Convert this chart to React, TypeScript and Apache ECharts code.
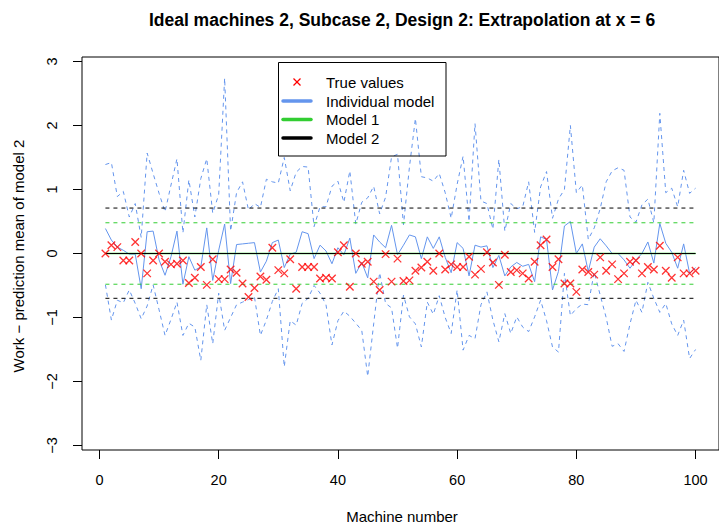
import React, { useEffect, useRef } from "react";
import * as echarts from "echarts";

const titleText = "Ideal machines 2, Subcase 2, Design 2: Extrapolation at x = 6";
const xAxisTitle = "Machine number";
const yAxisTitle = "Work \u2212 prediction mean of model 2";
const xTicks = [0, 20, 40, 60, 80, 100];
const yTicks = [-3, -2, -1, 0, 1, 2, 3];
const legendLabels = ["True values", "Individual model", "Model 1", "Model 2"];

// Individual model prediction (machines 1..100)
const individualPred = [
  0.39, 0.21, 0.1, 0.05, -0.01, -0.01, -0.55, 0.34, 0.35, -0.1,
  -0.34, -0.05, 0.35, -0.48, -0.05, -0.26, -0.21, 0.4, -0.42, 0.05,
  0.46, -0.47, 0.14, 0.15, 0.16, 0.17, -0.29, -0.12, 0.17, 0.21,
  -0.22, -0.01, 0.02, 0.34, 0.31, -0.08, 0.13, 0.04, -0.16, 0.09,
  -0.02, 0.24, -0.31, -0.14, -0.38, 0.29, 0.18, 0.09, 0.44, -0.02,
  0.13, 0.29, 0.26, -0.08, 0.26, 0.08, 0.26, -0.06, -0.3, 0.17,
  0.08, -0.35, 0.13, 0.1, 0.12, -0.22, -0.03, -0.35, -0.21, -0.14,
  -0.2, -0.17, -0.44, 0.26, 0.22, -0.57, -0.28, 0.43, 0.5, 0.0,
  0.15, -0.28, 0.1, 0.23, 0.12, 0.0, 0.0, -0.1, -0.23, -0.1,
  0.0, 0.18, -0.15, 0.47, 0.16, 0.02, -0.23, 0.15, -0.31, -0.22,
];

// Individual model upper interval
const individualUpper = [
  1.39, 1.42, 0.89, 0.97, 0.57, 0.78, 0.25, 1.57, 1.25, 0.94,
  0.65, 1.07, 1.48, 0.32, 1.15, 0.57, 1.17, 1.48, 0.63, 0.92,
  2.74, 0.35, 0.95, 1.12, 0.68, 0.78, 0.72, 1.16, 1.12, 1.1,
  1.5, 0.98, 1.27, 1.36, 1.35, 0.42, 0.73, 0.73, 1.05, 1.13,
  0.8, 1.29, 0.46, 0.8, 0.87, 1.05, 0.62, 0.88, 1.51, 1.55,
  0.45, 1.35, 2.11, 1.2, 1.18, 1.13, 1.25, 0.95, 0.55, 1.08,
  1.52, 0.5, 2.03, 0.82, 0.78, 0.38, 1.47, 0.35, 0.78, 0.7,
  0.73, 1.12, 0.33, 1.04, 1.28, 0.55, 0.85, 1.0, 2.0, 0.95,
  1.07, 0.22, 0.4, 0.7, 1.12, 1.29, 1.34, 1.3, 0.57, 0.49,
  0.76, 0.85, 0.48, 2.19, 0.95, 1.02, 0.73, 1.3, 0.94, 1.02,
];

// Individual model lower interval
const individualLower = [
  -0.49, -1.04, -0.73, -0.77, -0.57, -0.78, -1.02, -0.82, -0.49, -0.88,
  -1.28, -1.03, -0.76, -1.28, -1.09, -1.15, -1.67, -0.8, -1.41, -0.62,
  -1.2, -1.0, -0.8, -0.76, -0.72, -0.68, -1.28, -1.04, -0.75, -0.55,
  -1.77, -1.05, -1.12, -0.78, -0.7, -0.5, -0.62, -0.8, -1.43, -1.05,
  -0.9, -0.98, -1.09, -1.2, -1.92, -1.1, -0.3, -0.78, -0.85, -1.48,
  -0.65, -0.99, -1.1, -1.46, -0.76, -0.95, -0.66, -1.0, -1.25, -0.57,
  -1.51, -1.28, -1.33, -0.8, -0.6, -1.04, -1.38, -0.94, -1.25, -0.99,
  -1.15, -1.22, -0.99, -0.73, -1.05, -1.46, -1.54, -0.31, -0.97, -0.86,
  -0.79, -0.8, -0.29, -0.65, -1.0, -1.45, -1.41, -1.53, -1.1, -0.73,
  -0.92, -0.45, -0.7, -0.92, -0.78, -1.1, -1.28, -1.04, -1.64, -1.5,
];

// True values
const trueValues = [
  0.0, 0.13, 0.1, -0.11, -0.11, 0.18, 0.0, -0.31, -0.11, 0.0,
  -0.13, -0.17, -0.16, -0.11, -0.46, -0.38, -0.21, -0.49, -0.09, -0.4,
  -0.4, -0.25, -0.3, -0.47, -0.68, -0.54, -0.36, -0.41, 0.09, -0.26,
  -0.31, -0.09, -0.55, -0.21, -0.21, -0.21, -0.39, -0.38, -0.39, 0.02,
  0.13, -0.52, 0.0, -0.16, -0.13, -0.44, -0.57, -0.01, -0.44, -0.08,
  -0.43, -0.42, -0.27, -0.22, -0.13, -0.27, 0.0, -0.25, -0.17, -0.21,
  -0.21, -0.05, -0.33, -0.24, 0.02, -0.14, -0.49, -0.02, -0.29, -0.26,
  -0.31, -0.39, -0.13, 0.13, 0.22, -0.21, -0.09, -0.47, -0.47, -0.6,
  -0.25, -0.29, -0.33, -0.06, -0.27, -0.17, -0.4, -0.31, -0.13, -0.11,
  -0.31, -0.21, -0.25, 0.12, -0.27, -0.38, -0.06, -0.31, -0.31, -0.27,
];

const model1Band = [-0.48, 0.0, 0.48];
const model2Band = [-0.7, 0.0, 0.71];
const firstMachine = 1;
const lastMachine = 100;

const BLUE = "#6495ED";
const GREEN = "#32CD32";
const RED = "#FF0000";
const FONT = "'Liberation Sans', Arial, Helvetica, sans-serif";

const toPts = (arr: number[]) => arr.map((v, i) => [i + 1, v]);
const hline = (v: number) => [
  [firstMachine, v],
  [lastMachine, v],
];
const fmtMinus = (v: number) => (v < 0 ? "\u2212" + Math.abs(v) : String(v));

export default function App() {
  const ref = useRef<HTMLDivElement>(null);
  useEffect(() => {
    if (!ref.current) return;
    const chart = echarts.init(ref.current, undefined, { renderer: "svg" });
    const lineSeries = (data: number[][], color: string, width: number, dashed: boolean, z = 2) => ({
      type: "line",
      data,
      showSymbol: false,
      symbol: "none",
      silent: true,
      z,
      lineStyle: { color, width, type: dashed ? [4, 4] : "solid" },
    });
    const legendY = [82, 101, 119.5, 138];
    const option: any = {
      animation: false,
      backgroundColor: "#ffffff",
      grid: {
        left: 82,
        top: 57,
        width: 641,
        height: 393,
        show: true,
        borderColor: "#000",
        borderWidth: 1,
        backgroundColor: "transparent",
      },
      xAxis: {
        type: "value",
        min: -2.93,
        max: 103.93,
        axisLine: { show: false, onZero: false },
        splitLine: { show: false },
        axisTick: { show: true, customValues: xTicks, length: 9, lineStyle: { color: "#000", width: 1 } },
        axisLabel: {
          customValues: xTicks,
          margin: 22,
          fontSize: 14.5,
          color: "#000",
          fontFamily: FONT,
        },
      },
      yAxis: {
        type: "value",
        min: -3.07,
        max: 3.07,
        axisLine: { show: false, onZero: false },
        splitLine: { show: false },
        axisTick: { show: true, customValues: yTicks, length: 9, lineStyle: { color: "#000", width: 1 } },
        axisLabel: {
          customValues: yTicks,
          rotate: 90,
          margin: 22.5,
          fontSize: 14.5,
          color: "#000",
          fontFamily: FONT,
          formatter: (v: number) => fmtMinus(v),
        },
      },
      series: [
        lineSeries(toPts(individualUpper), BLUE, 1, true),
        lineSeries(toPts(individualLower), BLUE, 1, true),
        lineSeries(toPts(individualPred), BLUE, 1, false),
        lineSeries(hline(model1Band[0]), GREEN, 1, true),
        lineSeries(hline(model1Band[2]), GREEN, 1, true),
        lineSeries(hline(model1Band[1]), GREEN, 1.6, false),
        lineSeries(hline(model2Band[0]), "#000", 1, true),
        lineSeries(hline(model2Band[2]), "#000", 1, true),
        lineSeries(hline(model2Band[1]), "#000", 1.1, false, 3),
        {
          type: "scatter",
          data: toPts(trueValues),
          symbol: "path://M0,0L10,10M10,0L0,10",
          symbolSize: 7.5,
          silent: true,
          z: 4,
          itemStyle: { color: "transparent", borderColor: RED, borderWidth: 1.3 },
        },
      ],
      graphic: [
        {
          type: "text",
          x: 402,
          y: 19.5,
          style: {
            text: titleText,
            font: `bold 17.5px ${FONT}`,
            fill: "#000",
            align: "center",
            verticalAlign: "middle",
          },
        },
        {
          type: "text",
          x: 402,
          y: 516,
          style: {
            text: xAxisTitle,
            font: `15px ${FONT}`,
            fill: "#000",
            align: "center",
            verticalAlign: "middle",
          },
        },
        {
          type: "text",
          x: 18,
          y: 256,
          rotation: Math.PI / 2,
          style: {
            text: yAxisTitle,
            font: `15px ${FONT}`,
            fill: "#000",
            align: "center",
            verticalAlign: "middle",
          },
        },
        {
          type: "rect",
          z: 10,
          shape: { x: 278.5, y: 62.5, width: 167.5, height: 93.5 },
          style: { fill: "none", stroke: "#000", lineWidth: 1 },
        },
        {
          type: "line",
          z: 10,
          shape: { x1: 293.5, y1: legendY[0] - 3.5, x2: 300.5, y2: legendY[0] + 3.5 },
          style: { stroke: RED, lineWidth: 1.2 },
        },
        {
          type: "line",
          z: 10,
          shape: { x1: 300.5, y1: legendY[0] - 3.5, x2: 293.5, y2: legendY[0] + 3.5 },
          style: { stroke: RED, lineWidth: 1.2 },
        },
        ...[BLUE, GREEN, "#000"].map((c, k) => ({
          type: "line",
          z: 10,
          shape: { x1: 283, y1: legendY[k + 1], x2: 311, y2: legendY[k + 1] },
          style: { stroke: c, lineWidth: 3.5, lineCap: "round" },
        })),
        ...legendLabels.map((t, k) => ({
          type: "text",
          z: 10,
          x: 326,
          y: legendY[k],
          style: {
            text: t,
            font: `15px ${FONT}`,
            fill: "#000",
            align: "left",
            verticalAlign: "middle",
          },
        })),
      ],
    };
    chart.setOption(option);
    return () => chart.dispose();
  }, []);
  return (
    <div
      ref={ref}
      style={{ position: "absolute", left: 0, top: 0, width: 719, height: 527, background: "#fff" }}
    />
  );
}
